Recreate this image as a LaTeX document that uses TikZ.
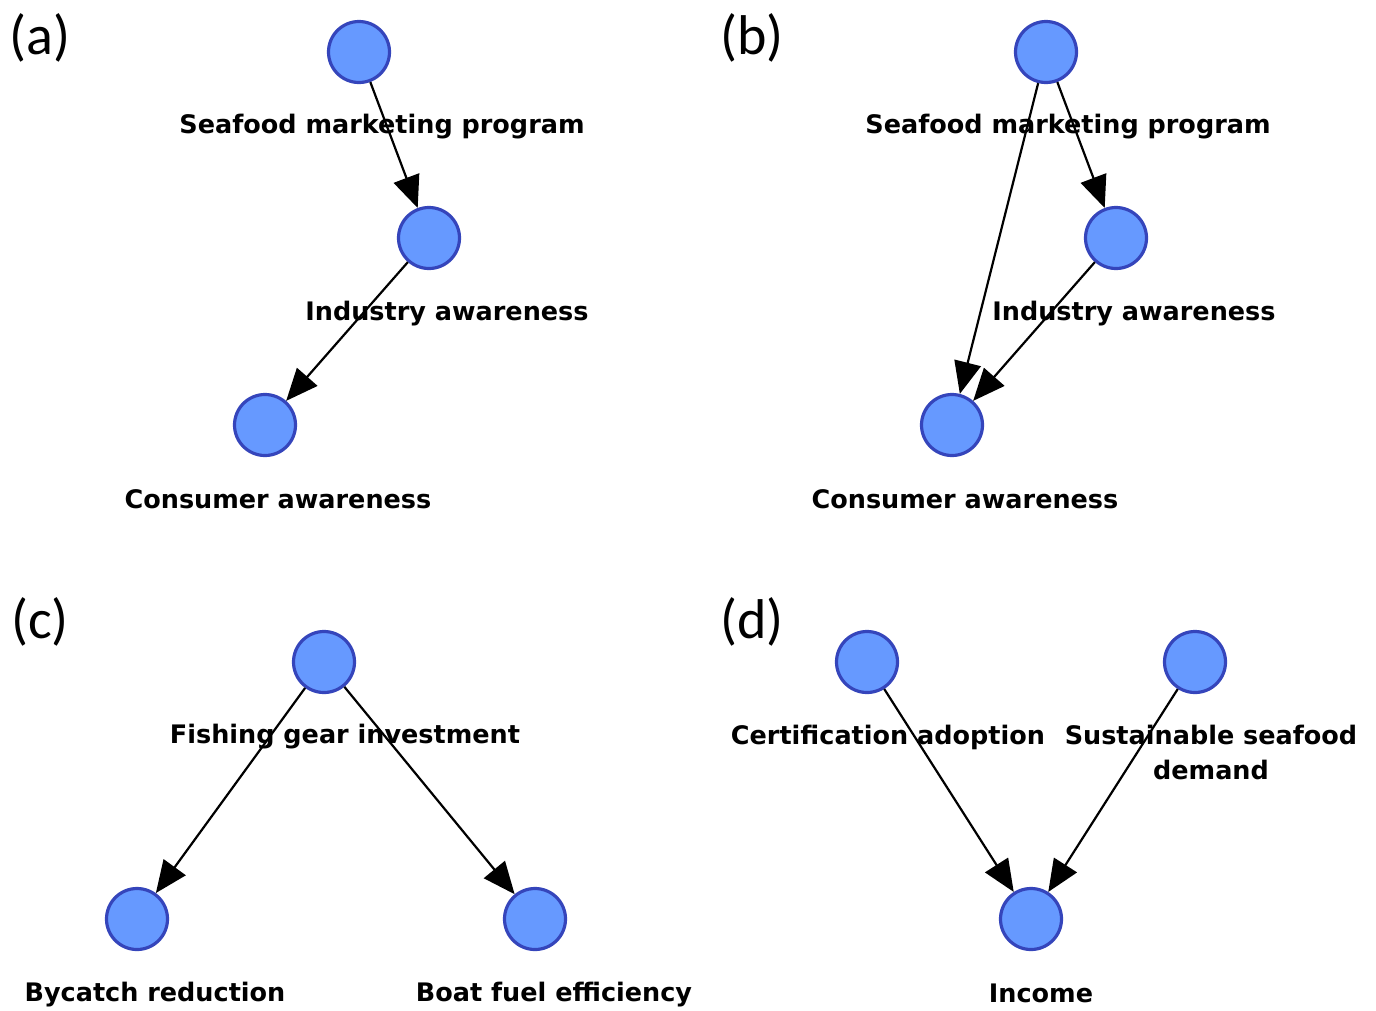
\documentclass[tikz,border=0pt]{standalone}
\usepackage{fontspec}
\setmainfont{DejaVu Sans}
\newfontfamily\panelfont{Carlito}
\usetikzlibrary{arrows.meta}
\definecolor{nodefill}{HTML}{6699FF}
\definecolor{nodeborder}{HTML}{3545BB}
\begin{document}
\begin{tikzpicture}[x=1pt,y=-1pt,
  vnode/.style={circle,fill=nodefill,draw=nodeborder,line width=3.2pt,minimum size=61pt,inner sep=0pt},
  vlabel/.style={font=\fontsize{25.5}{35}\selectfont\bfseries,align=center,inner sep=0pt},
  plabel/.style={font=\panelfont\fontsize{56}{60}\selectfont,inner sep=0pt},
  edge/.style={line width=2.2pt,-{Triangle[length=32pt,width=27pt]}}]
\useasboundingbox (0,0) rectangle (1376,1010);
% panel labels
\node[plabel] (pa) at (40,38) {(a)};
\node[plabel] (pb) at (752,38) {(b)};
\node[plabel] (pc) at (40,622) {(c)};
\node[plabel] (pd) at (752,622) {(d)};
% (a)
\node[vlabel] (la1) at (382,127) {Seafood marketing program};
\node[vlabel] (la2) at (447,314) {Industry awareness};
\node[vlabel] (la3) at (278,499) {Consumer awareness};
\node[vnode] (a1) at (359,52) {};
\node[vnode] (a2) at (429,238) {};
\node[vnode] (a3) at (265,425) {};
\draw[edge] (a1) -- (a2);
\draw[edge] (a2) -- (a3);
% (b)
\node[vlabel] (lb1) at (1068,127) {Seafood marketing program};
\node[vlabel] (lb2) at (1134,314) {Industry awareness};
\node[vlabel] (lb3) at (965,499) {Consumer awareness};
\node[vnode] (b1) at (1046,52) {};
\node[vnode] (b2) at (1116,238) {};
\node[vnode] (b3) at (952,425) {};
\draw[edge] (b1) -- (b2);
\draw[edge] (b2) -- (b3);
\draw[edge] (b1) -- (b3);
% (c)
\node[vlabel] (lc1) at (345,737) {Fishing gear investment};
\node[vlabel] (lc2) at (155,995) {Bycatch reduction};
\node[vlabel] (lc3) at (554,995) {Boat fuel efficiency};
\node[vnode] (c1) at (324,662) {};
\node[vnode] (c2) at (137,919) {};
\node[vnode] (c3) at (535,919) {};
\draw[edge] (c1) -- (c2);
\draw[edge] (c1) -- (c3);
% (d)
\node[vlabel] (ld1) at (888,737) {Certification adoption};
\node[vlabel] (ld2) at (1211,752) {Sustainable seafood\\demand};
\node[vlabel] (ld3) at (1041,993) {Income};
\node[vnode] (d1) at (867,662) {};
\node[vnode] (d2) at (1195,662) {};
\node[vnode] (d3) at (1031,919) {};
\draw[edge] (d1) -- (d3);
\draw[edge] (d2) -- (d3);
\end{tikzpicture}
\end{document}
